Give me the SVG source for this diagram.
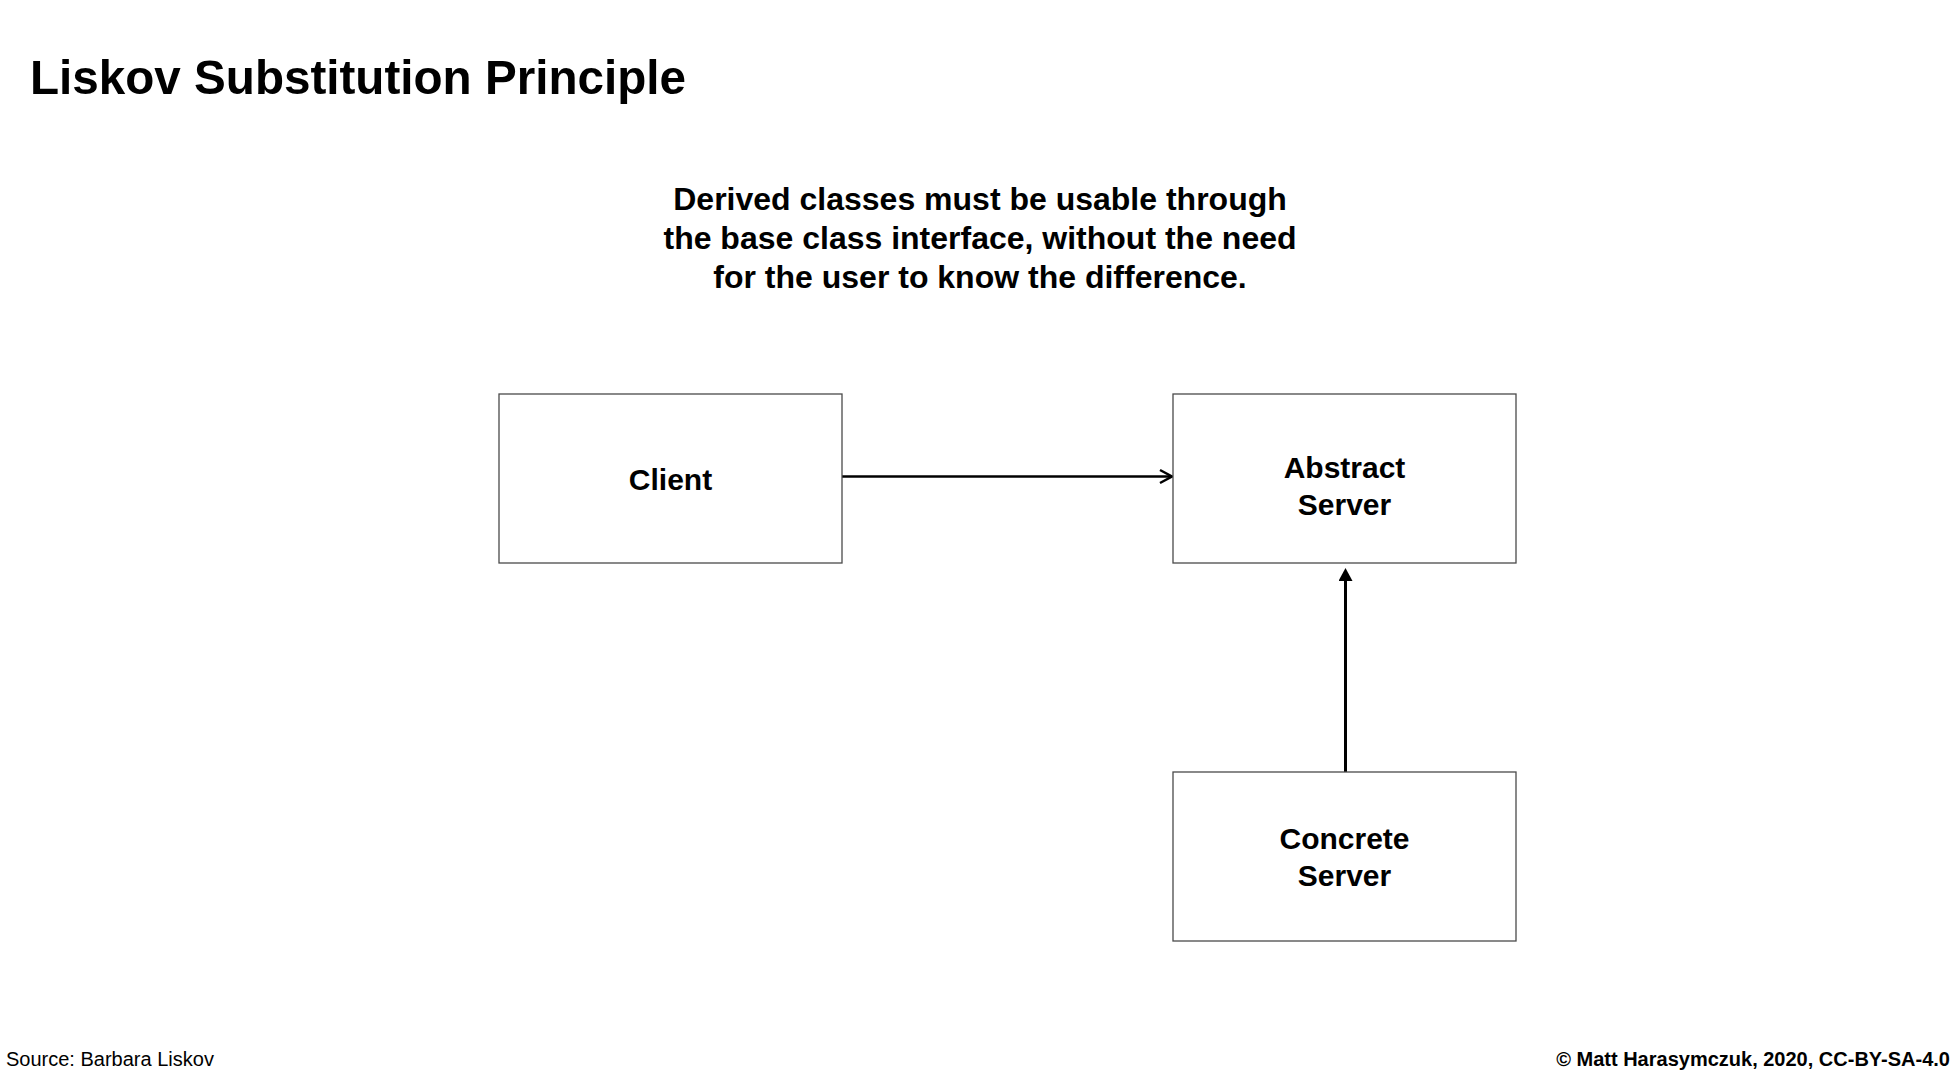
<svg xmlns="http://www.w3.org/2000/svg" width="1960" height="1080" viewBox="0 0 1960 1080">
  <style>
    text { font-family: "Liberation Sans", Arial, Helvetica, sans-serif; fill: #000; }
    .title { font-size: 49px; font-weight: bold; }
    .sub { font-size: 32px; font-weight: bold; text-anchor: middle; }
    .label { font-size: 30px; font-weight: bold; text-anchor: middle; }
    .foot { font-size: 20px; }
    .box { fill: #fff; stroke: #4a4a4a; stroke-width: 1.3; }
    .conn { stroke: #000; fill: none; }
  </style>
  <defs>
    <marker id="open" viewBox="-2 -2 18 18" markerWidth="18" markerHeight="18" refX="11" refY="7" markerUnits="userSpaceOnUse" orient="auto">
      <path d="M1,0.5 L13,7 L1,13.5" fill="none" stroke="#000" stroke-width="2.5"/>
    </marker>
    <marker id="filled" viewBox="0 0 14 14" markerWidth="14" markerHeight="14" refX="3" refY="7" markerUnits="userSpaceOnUse" orient="auto">
      <path d="M0,0 L13,7 L0,14 Z" fill="#000"/>
    </marker>
  </defs>

  <rect width="1960" height="1080" fill="#fff"/>

  <text class="title" x="30" y="94" textLength="656" lengthAdjust="spacingAndGlyphs">Liskov Substitution Principle</text>

  <g id="subtitle">
    <text class="sub" x="980" y="210">Derived classes must be usable through</text>
    <text class="sub" x="980" y="249">the base class interface, without the need</text>
    <text class="sub" x="980" y="288">for the user to know the difference.</text>
  </g>

  <g id="connectors">
    <line class="conn" x1="842" y1="476.5" x2="1170" y2="476.5" stroke-width="2.5" marker-end="url(#open)"/>
    <line class="conn" x1="1345.5" y1="772" x2="1345.5" y2="578" stroke-width="3" marker-end="url(#filled)"/>
  </g>

  <g id="client">
    <rect class="box" x="499" y="394" width="343" height="169"/>
    <text class="label" x="670.5" y="490">Client</text>
  </g>

  <g id="abstract-server">
    <rect class="box" x="1173" y="394" width="343" height="169"/>
    <text class="label" x="1344.5" y="478">Abstract</text>
    <text class="label" x="1344.5" y="515">Server</text>
  </g>

  <g id="concrete-server">
    <rect class="box" x="1173" y="772" width="343" height="169"/>
    <text class="label" x="1344.5" y="849">Concrete</text>
    <text class="label" x="1344.5" y="886">Server</text>
  </g>

  <text class="foot" x="6" y="1066">Source: Barbara Liskov</text>
  <text class="foot" x="1950" y="1066" font-weight="bold" font-size="20.6" text-anchor="end">© Matt Harasymczuk, 2020, CC-BY-SA-4.0</text>
</svg>
